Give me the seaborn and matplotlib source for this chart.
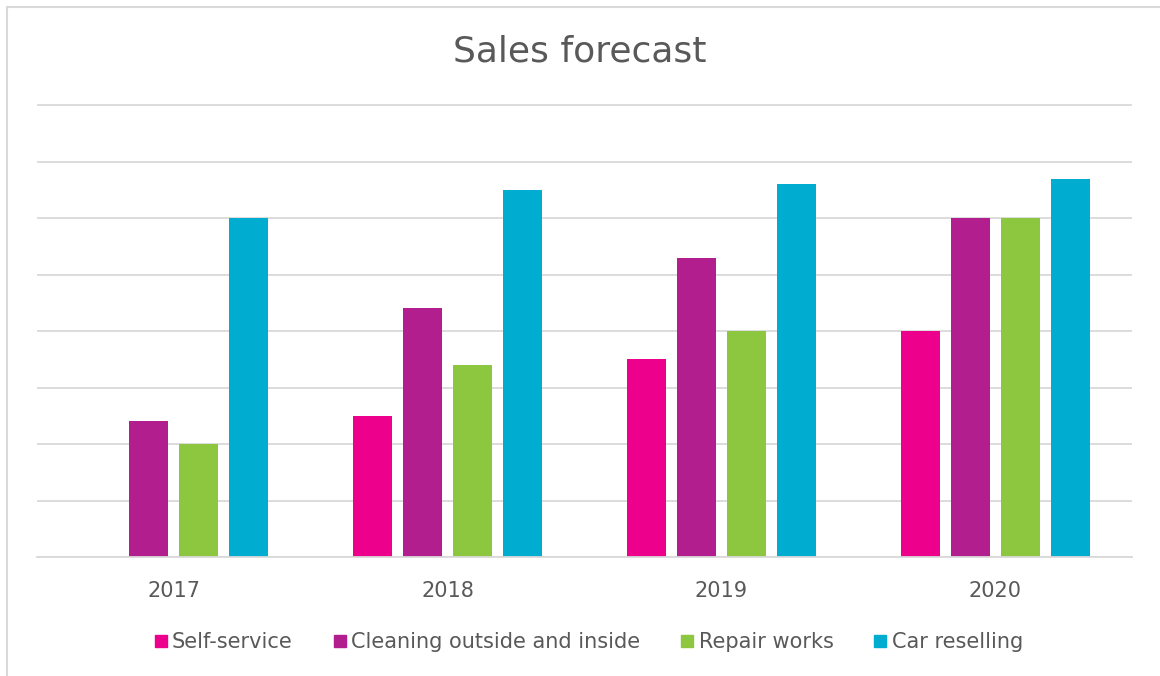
import matplotlib
matplotlib.use("Agg")
import matplotlib.pyplot as plt
import matplotlib.patches as mpatches
from matplotlib.lines import Line2D
import seaborn as sns
import pandas as pd

years = ["2017", "2018", "2019", "2020"]
series = ["Self-service", "Cleaning outside and inside", "Repair works", "Car reselling"]
self_service = [0.0, 2.5, 3.5, 4.0]
cleaning = [2.4, 4.4, 5.3, 6.0]
repair = [2.0, 3.4, 4.0, 6.0]
car_reselling = [6.0, 6.5, 6.6, 6.7]
colors = ["#EC008C", "#B21E8E", "#8DC63F", "#00ACD0"]

rows = []
for name, vals in zip(series, [self_service, cleaning, repair, car_reselling]):
    for y, v in zip(years, vals):
        rows.append({"Year": y, "Series": name, "Value": v})
df = pd.DataFrame(rows)

sns.set_theme(style="white")
plt.rcParams['font.family'] = ['DejaVu Sans']
text_color = "#595959"
grid_color = "#D9D9D9"

fig = plt.figure(figsize=(11.6, 6.76), dpi=100)
ax = fig.add_axes([37/1160, 1-557/676, (1132-37)/1160, (557-104)/676])

sns.barplot(data=df, x="Year", y="Value", hue="Series", hue_order=series,
            palette=colors, width=0.73, gap=0.22, ax=ax, legend=False,
            saturation=1, errorbar=None, linewidth=0)

ax.set_ylim(0, 8.02)
ax.set_xlim(-0.5, 3.5)
ax.set_yticks(range(0, 9))
ax.yaxis.grid(True, color=grid_color, linewidth=1.3)
ax.set_axisbelow(True)
ax.tick_params(axis="y", left=False, labelleft=False)
ax.tick_params(axis="x", bottom=False, labelsize=15, colors=text_color, pad=11)
for s in ["top", "right", "left"]:
    ax.spines[s].set_visible(False)
ax.spines["bottom"].set_color(grid_color)
ax.spines["bottom"].set_linewidth(1.3)
ax.set_xlabel("")
ax.set_ylabel("")

fig.text(0.5, 1-51/676, "Sales forecast", ha="center", va="center",
         fontsize=26, color=text_color)

handles = [Line2D([0], [0], marker="s", linestyle="none", markersize=9,
                  markerfacecolor=c, markeredgecolor=c) for c in colors]
leg = fig.legend(handles, series, loc="center", bbox_to_anchor=(0.508, 1-642/676),
                 ncol=4, frameon=False, fontsize=15, handlelength=0.5,
                 handletextpad=0.3, columnspacing=2.0, labelcolor=text_color)

frame = mpatches.Rectangle((7/1160, -0.1), 1.2, 1.1 - 7/676, transform=fig.transFigure,
                           fill=False, edgecolor=grid_color, linewidth=1.5)
fig.patches.append(frame)

fig.savefig("out.png", dpi=100)
